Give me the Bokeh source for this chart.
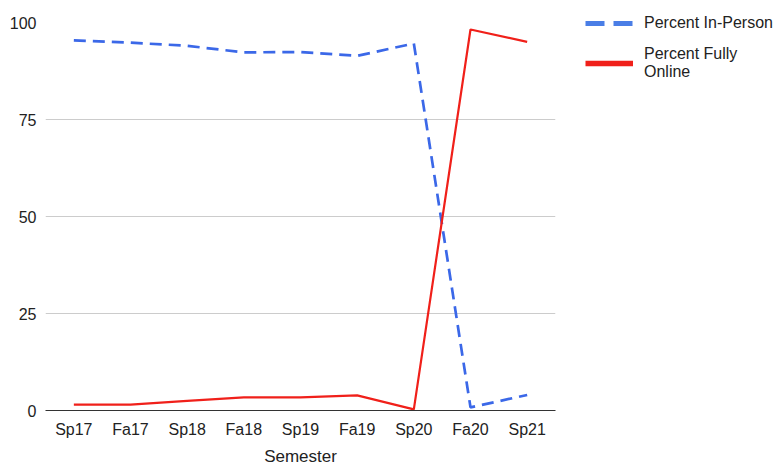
from bokeh.plotting import figure
from bokeh.models import Legend, LegendItem, FixedTicker, Range1d
from bokeh.embed import file_html
from bokeh.resources import INLINE

semesters = ["Sp17", "Fa17", "Sp18", "Fa18", "Sp19", "Fa19", "Sp20", "Fa20", "Sp21"]
in_person = [95.4, 94.8, 94.0, 92.3, 92.4, 91.4, 94.6, 0.8, 4.0]
fully_online = [1.5, 1.5, 2.5, 3.4, 3.4, 3.9, 0.3, 98.2, 95.0]
y_ticks = [0, 25, 50, 75, 100]

FONT = "Liberation Sans"
BLUE = "#3b68e8"
RED = "#f0201a"

p = figure(x_range=semesters, frame_width=510, frame_height=388, output_backend="svg",
           toolbar_location=None, min_border_left=45, min_border_top=22,
           min_border_right=0, min_border_bottom=0)
p.x_range.range_padding = 0.0
p.y_range = Range1d(0, 100)

p.line(semesters, in_person, line_color=BLUE, line_width=2.7, line_dash="12 7")
p.line(semesters, fully_online, line_color=RED, line_width=2.2)

# legend-key renderers: a single undefined point, so nothing is drawn in the plot,
# only the thicker key style of the reference in the legend
nan = float("nan")
blue_key = p.line(x=semesters[:1], y=[nan], line_color="#4a7ee6", line_width=5,
                  line_dash="19 9")
red_key = p.line(x=semesters[:1], y=[nan], line_color=RED, line_width=5.5)

p.outline_line_color = None
p.background_fill_color = "white"
p.border_fill_color = "white"

p.yaxis.ticker = FixedTicker(ticks=y_ticks)
p.yaxis.axis_line_color = None
p.yaxis.major_tick_line_color = None
p.yaxis.minor_tick_line_color = None
p.yaxis.major_label_text_font = FONT
p.yaxis.major_label_text_font_size = "16px"
p.yaxis.major_label_text_color = "#222222"
p.yaxis.major_label_standoff = 3

p.xaxis.axis_line_color = "#333333"
p.xaxis.axis_line_width = 1.2
p.xaxis.major_tick_line_color = None
p.xaxis.minor_tick_line_color = None
p.xaxis.major_label_text_font = FONT
p.xaxis.major_label_text_font_size = "16px"
p.xaxis.major_label_text_color = "#222222"
p.xaxis.major_label_standoff = 4
p.xaxis.axis_label = "Semester"
p.xaxis.axis_label_text_font = FONT
p.xaxis.axis_label_text_font_size = "17px"
p.xaxis.axis_label_text_font_style = "normal"
p.xaxis.axis_label_text_color = "#222222"
p.xaxis.axis_label_standoff = 6

p.xgrid.grid_line_color = None
p.ygrid.ticker = FixedTicker(ticks=y_ticks)
p.ygrid.grid_line_color = "#cccccc"
p.ygrid.grid_line_width = 1

legend = Legend(items=[LegendItem(label="Percent In-Person", renderers=[blue_key]),
                       LegendItem(label="Percent Fully\nOnline", renderers=[red_key])],
                location=(30, 329), padding=0, margin=0, spacing=12,
                glyph_width=48, label_standoff=11,
                border_line_color=None, background_fill_alpha=0,
                label_text_font=FONT, label_text_font_size="16px",
                label_text_color="#222222", label_text_line_height=0.95)
p.add_layout(legend, "right")

open("out.html", "w").write(file_html(p, INLINE))
